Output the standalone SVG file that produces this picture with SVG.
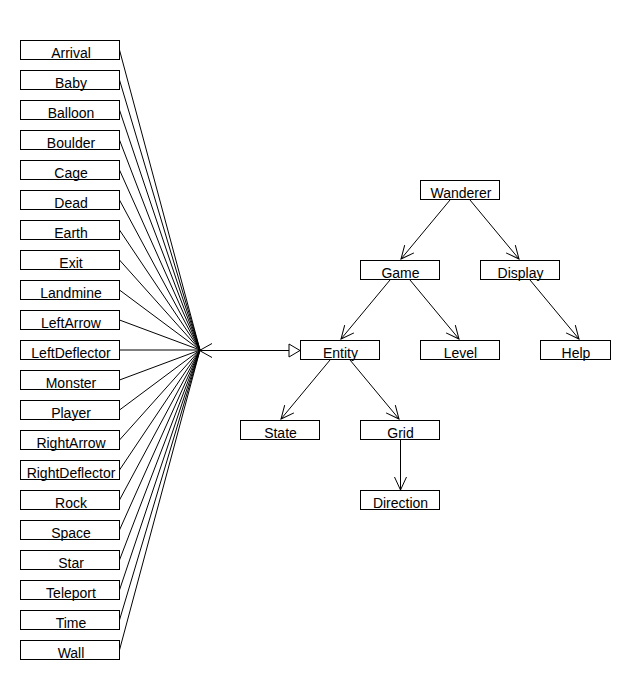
<svg xmlns="http://www.w3.org/2000/svg" width="630" height="690" viewBox="0 0 630 690">
<style>
.box rect{fill:#fff;stroke:#000;stroke-width:1}
.box text{font-family:"Liberation Sans",Arial,sans-serif;font-size:14px;fill:#000;text-anchor:middle}
.conn line,.conn path{stroke:#000;stroke-width:1;fill:none}
</style>
<defs>
<marker id="open" markerUnits="userSpaceOnUse" markerWidth="20" markerHeight="20" refX="0" refY="0" viewBox="-15 -10 20 20" orient="auto" overflow="visible">
<path d="M-13,-6 L0,0 L-13,6" fill="none" stroke="#000" stroke-width="1"/>
</marker>
<marker id="tri" markerUnits="userSpaceOnUse" markerWidth="20" markerHeight="20" refX="0" refY="0" viewBox="-15 -10 20 20" orient="auto" overflow="visible">
<path d="M-11,-6.5 L0,0 L-11,6.5 Z" fill="#fff" stroke="#000" stroke-width="1"/>
</marker>
</defs>
<rect width="630" height="690" fill="#fff"/>
<g id="connectors" class="conn">
<line x1="119.5" y1="50" x2="200" y2="350"/>
<line x1="119.5" y1="80" x2="200" y2="350"/>
<line x1="119.5" y1="110" x2="200" y2="350"/>
<line x1="119.5" y1="140" x2="200" y2="350"/>
<line x1="119.5" y1="170" x2="200" y2="350"/>
<line x1="119.5" y1="200" x2="200" y2="350"/>
<line x1="119.5" y1="230" x2="200" y2="350"/>
<line x1="119.5" y1="260" x2="200" y2="350"/>
<line x1="119.5" y1="290" x2="200" y2="350"/>
<line x1="119.5" y1="320" x2="200" y2="350"/>
<line x1="119.5" y1="350" x2="200" y2="350"/>
<line x1="119.5" y1="380" x2="200" y2="350"/>
<line x1="119.5" y1="410" x2="200" y2="350"/>
<line x1="119.5" y1="440" x2="200" y2="350"/>
<line x1="119.5" y1="470" x2="200" y2="350"/>
<line x1="119.5" y1="500" x2="200" y2="350"/>
<line x1="119.5" y1="530" x2="200" y2="350"/>
<line x1="119.5" y1="560" x2="200" y2="350"/>
<line x1="119.5" y1="590" x2="200" y2="350"/>
<line x1="119.5" y1="620" x2="200" y2="350"/>
<line x1="119.5" y1="650" x2="200" y2="350"/>
<path d="M212,343.5 L199.5,350.5 L212,357.5"/>
<line x1="199.5" y1="350.5" x2="300" y2="350.5" marker-end="url(#tri)"/>
<line x1="450" y1="200" x2="401" y2="259" marker-end="url(#open)"/>
<line x1="470" y1="200" x2="519" y2="259" marker-end="url(#open)"/>
<line x1="390" y1="280" x2="341" y2="339" marker-end="url(#open)"/>
<line x1="410" y1="280" x2="459" y2="339" marker-end="url(#open)"/>
<line x1="530" y1="280" x2="579" y2="339" marker-end="url(#open)"/>
<line x1="330" y1="360" x2="281" y2="419" marker-end="url(#open)"/>
<line x1="350" y1="360" x2="399" y2="419" marker-end="url(#open)"/>
<line x1="400.5" y1="440" x2="400.5" y2="490" marker-end="url(#open)"/>
</g>
<g id="Arrival" class="box"><rect x="20.5" y="40.5" width="99" height="19"/><text x="71" y="58">Arrival</text></g>
<g id="Baby" class="box"><rect x="20.5" y="70.5" width="99" height="19"/><text x="71" y="88">Baby</text></g>
<g id="Balloon" class="box"><rect x="20.5" y="100.5" width="99" height="19"/><text x="71" y="118">Balloon</text></g>
<g id="Boulder" class="box"><rect x="20.5" y="130.5" width="99" height="19"/><text x="71" y="148">Boulder</text></g>
<g id="Cage" class="box"><rect x="20.5" y="160.5" width="99" height="19"/><text x="71" y="178">Cage</text></g>
<g id="Dead" class="box"><rect x="20.5" y="190.5" width="99" height="19"/><text x="71" y="208">Dead</text></g>
<g id="Earth" class="box"><rect x="20.5" y="220.5" width="99" height="19"/><text x="71" y="238">Earth</text></g>
<g id="Exit" class="box"><rect x="20.5" y="250.5" width="99" height="19"/><text x="71" y="268">Exit</text></g>
<g id="Landmine" class="box"><rect x="20.5" y="280.5" width="99" height="19"/><text x="71" y="298">Landmine</text></g>
<g id="LeftArrow" class="box"><rect x="20.5" y="310.5" width="99" height="19"/><text x="71" y="328">LeftArrow</text></g>
<g id="LeftDeflector" class="box"><rect x="20.5" y="340.5" width="99" height="19"/><text x="71" y="358">LeftDeflector</text></g>
<g id="Monster" class="box"><rect x="20.5" y="370.5" width="99" height="19"/><text x="71" y="388">Monster</text></g>
<g id="Player" class="box"><rect x="20.5" y="400.5" width="99" height="19"/><text x="71" y="418">Player</text></g>
<g id="RightArrow" class="box"><rect x="20.5" y="430.5" width="99" height="19"/><text x="71" y="448">RightArrow</text></g>
<g id="RightDeflector" class="box"><rect x="20.5" y="460.5" width="99" height="19"/><text x="71" y="478">RightDeflector</text></g>
<g id="Rock" class="box"><rect x="20.5" y="490.5" width="99" height="19"/><text x="71" y="508">Rock</text></g>
<g id="Space" class="box"><rect x="20.5" y="520.5" width="99" height="19"/><text x="71" y="538">Space</text></g>
<g id="Star" class="box"><rect x="20.5" y="550.5" width="99" height="19"/><text x="71" y="568">Star</text></g>
<g id="Teleport" class="box"><rect x="20.5" y="580.5" width="99" height="19"/><text x="71" y="598">Teleport</text></g>
<g id="Time" class="box"><rect x="20.5" y="610.5" width="99" height="19"/><text x="71" y="628">Time</text></g>
<g id="Wall" class="box"><rect x="20.5" y="640.5" width="99" height="19"/><text x="71" y="658">Wall</text></g>
<g id="Wanderer" class="box"><rect x="420.5" y="180.5" width="79" height="19"/><text x="461" y="198">Wanderer</text></g>
<g id="Game" class="box"><rect x="360.5" y="260.5" width="79" height="19"/><text x="400.5" y="278">Game</text></g>
<g id="Display" class="box"><rect x="480.5" y="260.5" width="79" height="19"/><text x="520.5" y="278">Display</text></g>
<g id="Entity" class="box"><rect x="300.5" y="340.5" width="79" height="19"/><text x="340.5" y="358">Entity</text></g>
<g id="Level" class="box"><rect x="420.5" y="340.5" width="79" height="19"/><text x="460.5" y="358">Level</text></g>
<g id="Help" class="box"><rect x="540.5" y="340.5" width="70" height="19"/><text x="576" y="358">Help</text></g>
<g id="State" class="box"><rect x="240.5" y="420.5" width="79" height="19"/><text x="280.5" y="438">State</text></g>
<g id="Grid" class="box"><rect x="360.5" y="420.5" width="79" height="19"/><text x="400.5" y="438">Grid</text></g>
<g id="Direction" class="box"><rect x="360.5" y="490.5" width="79" height="19"/><text x="400.5" y="508">Direction</text></g>
</svg>
